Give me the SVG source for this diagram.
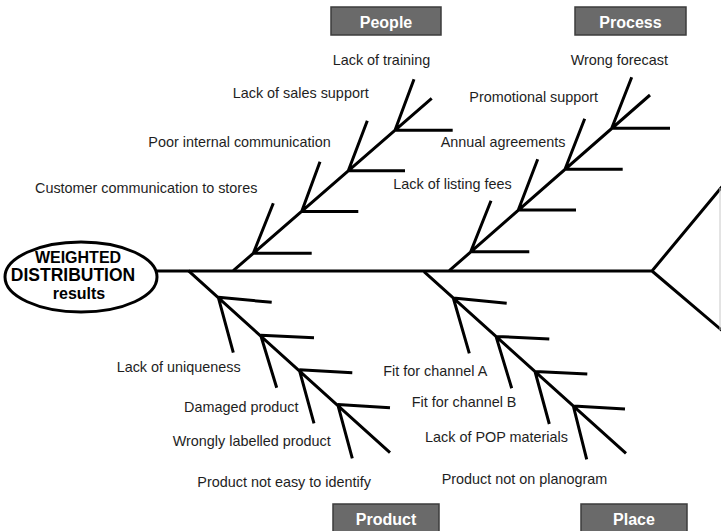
<svg xmlns="http://www.w3.org/2000/svg" width="721" height="531" viewBox="0 0 721 531">
  <style>
    .bone { fill: none; stroke: #000; stroke-width: 3; stroke-linecap: butt; stroke-linejoin: miter; }
    .label { font-family: "Liberation Sans", Arial, sans-serif; font-size: 14.4px; fill: #1e1e1e; }
    .cat rect { fill: #6a6a6a; stroke: #3c3c3c; stroke-width: 1.5; }
    .cat text { font-family: "Liberation Sans", Arial, sans-serif; font-size: 16px; font-weight: bold; fill: #fff; text-anchor: middle; }
    .head text { font-family: "Liberation Sans", Arial, sans-serif; font-weight: bold; fill: #000; text-anchor: middle; }
  </style>
  <rect width="721" height="531" fill="#fff"/>

  <!-- spine, tail and bone structure -->
  <g id="connectors">
    <path class="bone" d="M157,271 H652 L725,183 M652,271 L725,333"/>
    <line x1="720" y1="188" x2="720" y2="330" stroke="#c8c8c8" stroke-width="1"/>
  </g>

  <!-- People bone -->
  <g id="people">
    <path class="bone" d="M233.3,270.7 L431.7,98.3
      M253.3,253.3 H311.7 M253.3,253.3 L273.3,203.3
      M301.7,211.5 H358.3 M301.7,211.5 L320,161.7
      M348.3,170.8 H405 M348.3,170.8 L367.3,120.7
      M395,130.2 H452.7 M395,130.2 L414,79.3"/>
    <g class="cat"><rect x="331" y="7" width="110" height="28"/><text x="386" y="27.5">People</text></g>
    <text class="label" x="332.7" y="64.5">Lack of training</text>
    <text class="label" x="232.7" y="98">Lack of sales support</text>
    <text class="label" x="148.3" y="147">Poor internal communication</text>
    <text class="label" x="35" y="193">Customer communication to stores</text>
  </g>

  <!-- Process bone -->
  <g id="process">
    <path class="bone" d="M449.3,270.7 L650,95
      M470.7,251.8 H529.3 M470.7,251.8 L491,200.7
      M518.3,210 H576 M518.3,210 L537.7,159.3
      M565,169.2 H622.7 M565,169.2 L584.7,118.7
      M611.7,128.3 H670 M611.7,128.3 L631.7,77.3"/>
    <g class="cat"><rect x="575" y="7" width="111" height="28"/><text x="630.5" y="27.5">Process</text></g>
    <text class="label" x="570.7" y="64.5">Wrong forecast</text>
    <text class="label" x="469.3" y="102">Promotional support</text>
    <text class="label" x="440.7" y="147">Annual agreements</text>
    <text class="label" x="393.3" y="189">Lack of listing fees</text>
  </g>

  <!-- Product bone -->
  <g id="product">
    <path class="bone" d="M188.3,270.7 L390,452.7
      M218.3,297.3 L271.7,302.3 M218.3,297.3 L233.3,352.7
      M260.7,335.2 L314,337.7 M260.7,335.2 L276.7,387.7
      M299.3,369.8 L352.3,372.7 M299.3,369.8 L314,423.3
      M337.7,404.4 L390,407.7 M337.7,404.4 L352.3,458.3"/>
    <g class="cat"><rect x="333" y="504" width="106" height="32"/><text x="386" y="525">Product</text></g>
    <text class="label" x="240.7" y="372" text-anchor="end">Lack of uniqueness</text>
    <text class="label" x="184" y="412">Damaged product</text>
    <text class="label" x="172.7" y="445.5">Wrongly labelled product</text>
    <text class="label" x="197.3" y="487">Product not easy to identify</text>
  </g>

  <!-- Place bone -->
  <g id="place">
    <path class="bone" d="M424,271.7 L626,453.3
      M453.3,298 L506.7,303.3 M453.3,298 L469.3,353.3
      M496,336.4 L549.3,339 M496,336.4 L511.7,388.3
      M535,371.5 L587.3,374 M535,371.5 L549.3,424
      M573.3,405.9 L625,409 M573.3,405.9 L586.7,459.3"/>
    <g class="cat"><rect x="581" y="504" width="106" height="32"/><text x="634" y="525">Place</text></g>
    <text class="label" x="487.3" y="375.5" text-anchor="end">Fit for channel A</text>
    <text class="label" x="411.7" y="407">Fit for channel B</text>
    <text class="label" x="425" y="442">Lack of POP materials</text>
    <text class="label" x="441.7" y="483.5">Product not on planogram</text>
  </g>

  <!-- effect head -->
  <g id="result" class="head">
    <ellipse cx="81" cy="277" rx="76" ry="35" fill="#fff" stroke="#000" stroke-width="3"/>
    <text x="78" y="262.5" font-size="16px">WEIGHTED</text>
    <text x="73" y="281" font-size="17.5px">DISTRIBUTION</text>
    <text x="79" y="299" font-size="16px">results</text>
  </g>
</svg>
